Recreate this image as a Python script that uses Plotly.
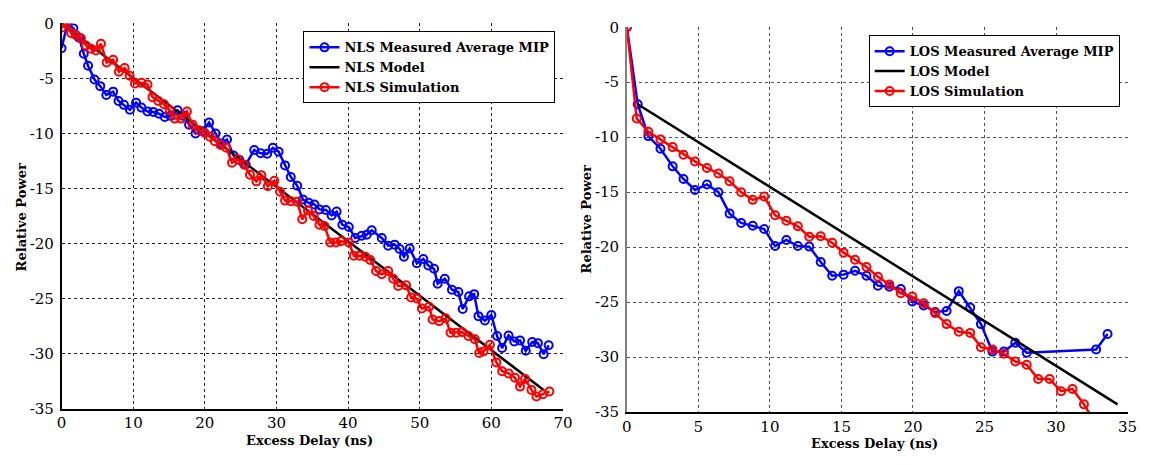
import plotly.graph_objects as go

# ---------------- Left panel: NLS ----------------
nls_meas_x = [0, 0.83, 1.65, 2.44, 3.1, 3.7, 4.6, 5.4, 6.25, 7.2, 7.95, 8.7, 9.55, 10.4, 11.15, 12.0,
              12.8, 13.6, 14.4, 15.2, 16.2, 17.0, 17.8, 18.7, 19.7, 20.6, 21.5, 22.3, 23.1, 24.0, 24.8,
              25.7, 26.9, 27.8, 28.7, 29.5, 30.3, 31.2, 32.0, 32.9, 33.7, 34.5, 35.3, 36.0, 36.9, 37.7,
              38.4, 39.2, 40.1, 41.0, 41.9, 42.6, 43.3, 44.7, 45.6, 46.5, 47.2, 47.8, 48.6, 49.6, 50.5,
              51.2, 52.0, 52.5, 53.5, 54.5, 55.4, 56.0, 56.9, 57.6, 58.2, 59.1, 60.0, 60.8, 61.5, 62.4,
              63.2, 64.0, 64.8, 65.7, 66.5, 67.3, 68.0]
nls_meas_y = [-2.25, 0, -0.45, -1.3, -2.75, -3.85, -5.1, -5.7, -6.5, -6.2, -7.05, -7.4, -7.85, -7.2, -7.65, -8.0,
              -8.05, -8.2, -8.5, -8.4, -7.9, -8.4, -9.2, -10.0, -9.8, -9.0, -10.0, -10.9, -10.55, -12.0, -12.4,
              -12.85, -11.5, -11.8, -11.85, -11.3, -11.65, -12.9, -13.95, -14.75, -16.0, -16.3, -16.45, -16.9, -16.95, -17.45,
              -17.1, -18.3, -18.5, -19.5, -19.3, -19.2, -18.8, -19.5, -20.2, -20.1, -20.5, -21.2, -20.45, -21.8, -21.4,
              -22.0, -22.3, -23.65, -23.2, -24.2, -24.4, -25.95, -24.8, -24.6, -26.6, -27.0, -26.5, -28.4, -29.5, -28.35,
              -28.9, -28.8, -29.75, -28.95, -29.05, -30.05, -29.25]

nls_model_x = [0, 67.3]
nls_model_y = [0, -33.3]

nls_sim_x = [0, 0.7, 1.35, 2.0, 2.7, 3.4, 4.1, 4.8, 5.5, 6.3, 7.2, 8.0, 8.8, 9.5, 10.25, 11.15, 12.0, 12.7,
             13.5, 14.3, 15.1, 15.8, 16.7, 17.5, 18.3, 19.2, 20.0, 20.7, 21.4, 22.2, 23.0, 23.8, 24.6, 25.5,
             26.3, 27.2, 27.9, 28.8, 29.7, 30.5, 31.2, 32.0, 32.9, 33.6, 34.4, 35.2, 36.0, 36.7, 37.5, 38.3,
             39.0, 40.1, 40.8, 41.6, 42.4, 43.1, 43.9, 44.7, 45.6, 46.3, 47.0, 48.1, 48.8, 49.6, 50.3, 51.3,
             51.8, 52.7, 53.6, 54.3, 55.1, 55.9, 56.8, 57.7, 58.3, 58.9, 59.8, 60.7, 61.5, 62.4, 63.3, 64.0,
             64.7, 65.6, 66.3, 67.2, 68.1]
nls_sim_y = [-0.4, 0, -0.9, -1.05, -1.35, -2.0, -2.3, -2.45, -1.85, -3.55, -3.3, -4.4, -4.05, -4.75, -5.45, -5.4, -5.55, -6.7,
             -7.05, -7.35, -7.9, -8.65, -8.65, -8.0, -9.2, -9.7, -9.95, -10.3, -10.7, -11.05, -11.3, -12.65, -12.35, -12.85,
             -13.75, -14.35, -13.8, -14.8, -14.3, -15.3, -16.1, -16.15, -16.2, -17.8, -17.0, -17.5, -18.3, -18.4, -19.9, -19.9,
             -19.8, -19.9, -21.1, -21.1, -21.2, -21.5, -22.5, -22.8, -22.5, -23.2, -23.85, -23.8, -24.9, -25.0, -25.9, -25.75,
             -26.9, -27.05, -26.8, -28.1, -28.1, -28.05, -28.4, -28.7, -29.95, -29.8, -29.2, -30.8, -31.6, -31.8, -32.2, -33.0,
             -32.3, -33.3, -33.9, -33.7, -33.45]

# ---------------- Right panel: LOS ----------------
los_meas_x = [0, 0.76, 1.5, 2.35, 3.2, 3.96, 4.76, 5.6, 6.4, 7.18, 7.99, 8.8, 9.6, 10.36, 11.15, 11.95, 12.75,
              13.55, 14.35, 15.15, 15.95, 16.75, 17.55, 18.35, 19.15, 19.95, 20.75, 21.55, 22.35, 23.2, 24.0,
              24.75, 25.55, 26.35, 27.15, 27.95, 32.8, 33.6]
los_meas_y = [0, -7.0, -9.9, -11.05, -12.65, -13.8, -14.8, -14.3, -15.0, -16.95, -17.8, -18.06, -18.35, -19.9, -19.35, -19.9, -19.95,
              -21.35, -22.6, -22.5, -22.15, -22.6, -23.5, -23.6, -23.8, -24.95, -25.3, -25.9, -25.8, -24.0, -25.5,
              -27.0, -29.5, -29.5, -28.7, -29.6, -29.3, -27.9]

los_model_x = [0.76, 34.3]
los_model_y = [-7.0, -34.3]

los_sim_x = [0, 0.69, 1.5, 2.35, 3.2, 3.96, 4.76, 5.6, 6.4, 7.18, 7.99, 8.8, 9.6, 10.36, 11.15, 11.95, 12.75,
             13.55, 14.35, 15.15, 15.95, 16.75, 17.55, 18.35, 19.15, 19.95, 20.75, 21.55, 22.35, 23.2, 24.0,
             24.75, 25.55, 26.35, 27.15, 27.95, 28.75, 29.55, 30.35, 31.15, 31.95, 32.75]
los_sim_y = [0, -8.3, -9.5, -10.2, -10.9, -11.6, -12.2, -12.8, -13.3, -14.0, -15.0, -15.7, -15.4, -17.1, -17.6, -18.1, -19.05,
             -19.0, -19.6, -20.5, -21.15, -21.8, -22.7, -23.4, -24.2, -24.5, -25.1, -26.0, -27.0, -27.7, -27.8,
             -29.1, -29.3, -29.7, -30.4, -30.7, -32.0, -32.0, -33.1, -32.9, -34.3, -36.0]

y_ticks = [0, -5, -10, -15, -20, -25, -30, -35]
y_tick_text = ["0", "-5", "-10", "-15", "-20", "-25", "-30", "-35"]
x_ticks_left = [0, 10, 20, 30, 40, 50, 60, 70]
x_ticks_right = [0, 5, 10, 15, 20, 25, 30, 35]

x_title = "Excess Delay (ns)"
y_title = "Relative Power"

FONT = "DejaVu Serif"
BLUE = "#0000ff"
RED = "#ff0000"

fig = go.Figure()

def add_series(x, y, name, color, xa, ya, legend, markers=True):
    fig.add_trace(go.Scatter(
        x=x, y=y, name=name, xaxis=xa, yaxis=ya, legend=legend,
        mode="lines+markers" if markers else "lines",
        line=dict(color=color, width=2.5),
        marker=dict(symbol="circle-open", size=8, color=color, line=dict(width=2, color=color)),
    ))

add_series(nls_meas_x, nls_meas_y, "NLS Measured Average MIP", BLUE, "x", "y", "legend")
add_series(nls_model_x, nls_model_y, "NLS Model", "#000000", "x", "y", "legend", markers=False)
add_series(nls_sim_x, nls_sim_y, "NLS Simulation", RED, "x", "y", "legend")

add_series(los_meas_x, los_meas_y, "LOS Measured Average MIP", BLUE, "x2", "y2", "legend2")
add_series(los_model_x, los_model_y, "LOS Model", "#000000", "x2", "y2", "legend2", markers=False)
add_series(los_sim_x, los_sim_y, "LOS Simulation", RED, "x2", "y2", "legend2")

W, H = 1159, 465
def px_x(p):
    return p / W
def px_y(p):
    return 1 - p / H

tickfont = dict(family=FONT, size=15, color="#000000")
axis_common = dict(showgrid=True, griddash="3px,3px", gridwidth=1, zeroline=False, ticks="",
                   tickfont=tickfont, mirror=False, showline=True, linewidth=1.5)

fig.update_layout(
    width=W, height=H,
    margin=dict(l=0, r=0, t=0, b=0),
    paper_bgcolor="white", plot_bgcolor="white",
    font=dict(family=FONT, size=13, color="#000000"),
    xaxis=dict(domain=[px_x(57.3), px_x(565.3)], range=[0, 70], tickvals=x_ticks_left,
               anchor="y", gridcolor="#222222", linecolor="#000000", **axis_common),
    yaxis=dict(domain=[px_y(415.7), px_y(15)], range=[-35, 0], tickvals=y_ticks, ticktext=y_tick_text,
               anchor="x", gridcolor="#222222", linecolor="#000000", ticklabelstandoff=3, **axis_common),
    xaxis2=dict(domain=[px_x(630), px_x(1137.3)], range=[0, 35], tickvals=x_ticks_right,
                anchor="y2", gridcolor="#555555", linecolor="#000000", **axis_common),
    yaxis2=dict(domain=[px_y(419.3), px_y(19)], range=[-35, 0], tickvals=y_ticks, ticktext=y_tick_text,
                anchor="x2", gridcolor="#555555", linecolor="#808080", ticklabelstandoff=3, **axis_common),
    legend=dict(x=px_x(557.7), y=px_y(23.3), xanchor="right", yanchor="top",
                bgcolor="white", bordercolor="#000000", borderwidth=1,
                font=dict(family=FONT, size=13, color="#000000", weight="bold"),
                tracegroupgap=0, itemwidth=30),
    legend2=dict(x=px_x(1129.3), y=px_y(27.3), xanchor="right", yanchor="top",
                 bgcolor="white", bordercolor="#000000", borderwidth=1,
                 font=dict(family=FONT, size=13, color="#000000", weight="bold"),
                 tracegroupgap=0, itemwidth=30),
    showlegend=True,
)

title_font = dict(family=FONT, size=13, color="#000000", weight="bold")
annos = [
    dict(text=x_title, x=px_x(308), y=px_y(449)),
    dict(text=x_title, x=px_x(880.5), y=px_y(452.5)),
    dict(text=y_title, x=px_x(17), y=px_y(217), textangle=-90),
    dict(text=y_title, x=px_x(589.5), y=px_y(219), textangle=-90),
]
for a in annos:
    fig.add_annotation(xref="paper", yref="paper", showarrow=False, font=title_font,
                       xanchor="center", yanchor="middle", **a)

fig.write_html("out.html")
